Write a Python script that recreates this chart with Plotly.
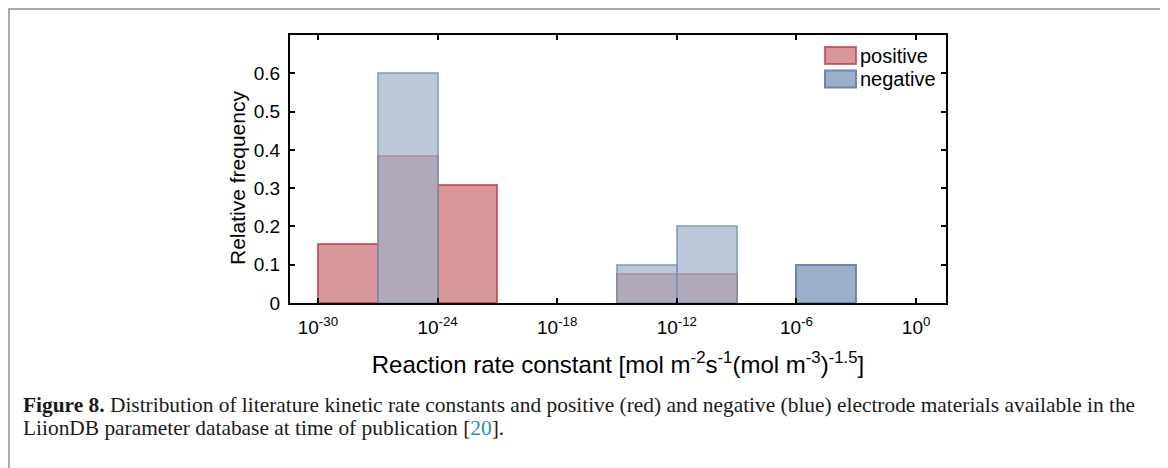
import plotly.graph_objects as go

# histogram bins: left edge exponent (log10), width 3 decades
bin_left_exp = [-30, -27, -24, -21, -18, -15, -12, -9, -6, -3]
bin_width_exp = 3
positive_freq = [0.154, 0.385, 0.308, 0, 0, 0.077, 0.077, 0, 0, 0]
negative_freq = [0, 0.6, 0, 0, 0, 0.1, 0.2, 0, 0.1, 0]

x_tick_exp = [-30, -24, -18, -12, -6, 0]
x_tick_text = [f"10<sup>{e}</sup>" for e in x_tick_exp]
y_tick_vals = [0, 0.1, 0.2, 0.3, 0.4, 0.5, 0.6]
y_tick_text = ["0", "0.1", "0.2", "0.3", "0.4", "0.5", "0.6"]
legend_names = ["positive", "negative"]

centers = [e + bin_width_exp / 2 for e in bin_left_exp]

red_fill = "rgba(192,82,88,0.6)"
red_edge = "rgba(195,60,72,0.75)"
blue_fill = ["rgba(159,176,199,0.7)"] * len(bin_left_exp)
blue_edge = ["rgba(120,145,182,0.7)"] * len(bin_left_exp)
# the 1e-6 bin is drawn darker in the original
blue_fill[8] = "rgba(150,168,198,0.92)"
blue_edge[8] = "rgba(105,130,170,0.95)"

# no outline on empty bins (otherwise it paints over the x axis)
pos_edge_w = [2 if v > 0 else 0 for v in positive_freq]
neg_edge_w = [2 if v > 0 else 0 for v in negative_freq]

fig = go.Figure()
fig.add_trace(go.Bar(
    x=centers, y=positive_freq, width=bin_width_exp, name=legend_names[0],
    marker=dict(color=red_fill, line=dict(color=red_edge, width=pos_edge_w)), showlegend=False,
))
fig.add_trace(go.Bar(
    x=centers, y=negative_freq, width=bin_width_exp, name=legend_names[1],
    marker=dict(color=blue_fill, line=dict(color=blue_edge, width=neg_edge_w)), showlegend=False,
))

sans = "Liberation Sans, Arial"

# page body has an 8px margin, so the figure is 8px smaller and margins shifted
fig.update_layout(
    width=1160, height=460,
    margin=dict(l=282, r=222, t=27, b=165),
    plot_bgcolor="white", paper_bgcolor="white",
    barmode="overlay", bargap=0,
    font=dict(family=sans, size=19, color="black"),
    xaxis=dict(
        range=[-31.4, 1.5], tickvals=x_tick_exp, ticktext=x_tick_text,
        ticks="inside", ticklen=5, tickwidth=2, tickcolor="black",
        showline=True, linewidth=2, linecolor="black", mirror="ticks",
        showgrid=False, zeroline=False, ticklabelstandoff=6,
        tickfont=dict(family=sans, size=19),
        title=dict(
            text="Reaction rate constant [mol m<sup>-2</sup>s<sup>-1</sup>(mol m<sup>-3</sup>)<sup>-1.5</sup>]",
            font=dict(family=sans, size=24), standoff=19,
        ),
    ),
    yaxis=dict(
        range=[0, 0.7], tickvals=y_tick_vals, ticktext=y_tick_text,
        ticks="inside", ticklen=5, tickwidth=2, tickcolor="black",
        showline=True, linewidth=2, linecolor="black", mirror="ticks",
        showgrid=False, zeroline=False, ticklabelstandoff=4,
        tickfont=dict(family=sans, size=19),
    ),
)


def px_x(xp):
    return (xp - 290) / 656


def px_y(yp):
    return (303 - yp) / 268


# y axis title placed as in the original (slightly below the plot centre)
fig.add_annotation(text="Relative frequency", xref="paper", yref="paper",
                   x=px_x(238), y=px_y(178), xanchor="center", yanchor="middle",
                   textangle=-90, showarrow=False, font=dict(family=sans, size=21, color="black"))

# page frame around the figure
fig.add_shape(type="rect", xref="paper", yref="paper",
              x0=px_x(9), x1=px_x(1163), y0=px_y(480), y1=px_y(9),
              line=dict(color="#aaaaaa", width=2), fillcolor="rgba(0,0,0,0)", layer="below")

# legend with the large swatches of the original
legend_fill = ["rgba(192,82,88,0.6)", "rgba(150,168,198,0.92)"]
legend_edge = ["rgba(195,60,72,0.75)", "rgba(105,130,170,0.95)"]
for i, name in enumerate(legend_names):
    top = 47 + i * 23.5
    fig.add_shape(type="rect", xref="paper", yref="paper",
                  x0=px_x(825), x1=px_x(856), y0=px_y(top + 17), y1=px_y(top),
                  line=dict(color=legend_edge[i], width=2), fillcolor=legend_fill[i])
    fig.add_annotation(text=name, xref="paper", yref="paper",
                       x=px_x(858), y=px_y(top + 8.5), xanchor="left", yanchor="middle",
                       showarrow=False, font=dict(family=sans, size=20, color="black"))

caption_lines = [
    "<b>Figure 8.</b> Distribution of literature kinetic rate constants and positive (red) and "
    "negative (blue) electrode materials available in the",
    "LiionDB parameter database at time of publication [<span style='color:#1f8dc6'>20</span>].",
]
for i, line in enumerate(caption_lines):
    fig.add_annotation(
        text=line, xref="paper", yref="paper",
        x=px_x(21), y=px_y(405 + i * 23), xanchor="left", yanchor="middle",
        showarrow=False, align="left",
        font=dict(family="Liberation Serif, Times New Roman", size=21.4, color="#1a1a1a"),
    )

fig.write_html("out.html")
